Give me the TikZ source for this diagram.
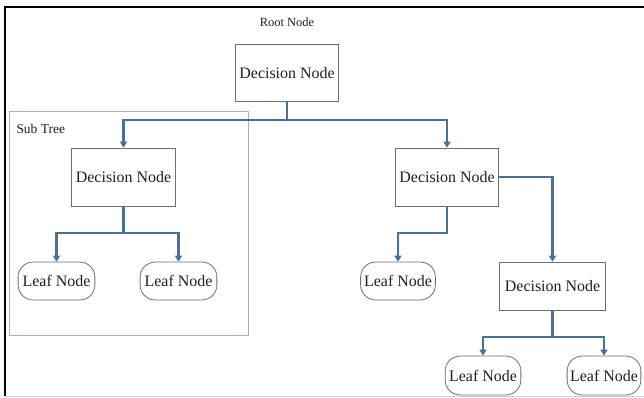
\documentclass[tikz,border=0pt]{standalone}
\usepackage{fontspec}
\setmainfont{Liberation Serif}
\usetikzlibrary{arrows.meta}

\definecolor{linkblue}{RGB}{72,112,152}
\definecolor{treeframe}{RGB}{160,178,196}
\definecolor{boxline}{RGB}{110,110,110}
\definecolor{txt}{RGB}{30,30,30}

\tikzset{
  decision/.style={draw=boxline,line width=0.8pt,text=txt,font=\fontsize{16}{18}\selectfont,
    minimum width=104,minimum height=57,inner sep=0pt},
  leaf/.style={draw=boxline,line width=0.8pt,text=txt,font=\fontsize{16}{18}\selectfont,
    rounded corners=15pt,minimum width=77,minimum height=38,inner sep=0pt},
  link/.style={draw=linkblue,line width=2.2pt,-{Triangle[width=7pt,length=6pt]}},
  trunk/.style={draw=linkblue,line width=2.2pt},
}

\begin{document}
\begin{tikzpicture}[x=1bp,y=-1bp]
  \useasboundingbox (0,0) rectangle (644,397);
  % outer frame
  \draw[line width=1.8pt] (5,396) -- (5,7) -- (644,7);
  \draw[gray!40,line width=0.6pt] (5,396) -- (644,396);

  % sub tree frame
  \draw[treeframe,line width=1pt] (9,111) rectangle (248,335);
  \node[anchor=west,text=txt,font=\fontsize{13.5}{15}\selectfont] (subtree) at (13,129) {Sub Tree};

  \node[text=txt,font=\fontsize{12.5}{14}\selectfont] (rootlbl) at (287,22) {Root Node};
  \node[decision] (root) at (287,73) {Decision Node};

  \node[decision,minimum height=58] (dl) at (123.5,177) {Decision Node};
  \node[decision,minimum height=58] (dr) at (447,177) {Decision Node};
  \node[decision,minimum width=107,minimum height=48] (dd) at (552.5,286) {Decision Node};

  \node[leaf] (l1) at (56.5,281) {Leaf Node};
  \node[leaf] (l2) at (178.5,281) {Leaf Node};
  \node[leaf,minimum width=75] (l3) at (398,281) {Leaf Node};
  \node[leaf,minimum width=76,minimum height=39] (l4) at (483,375.5) {Leaf Node};
  \node[leaf,minimum width=74,minimum height=39] (l5) at (604,375.5) {Leaf Node};

  % branching points
  \coordinate (j0) at (287,120);
  \coordinate (j1) at (123.5,233);
  \coordinate (j2) at (447,233);
  \coordinate (j3) at (552.5,337);

  \draw[trunk] (root) -- (j0);
  \draw[link] (j0) -| (dl);
  \draw[link] (j0) -| (dr);

  \draw[trunk] (dl) -- (j1);
  \draw[link] (j1) -| (l1);
  \draw[link] (j1) -| (l2);

  \draw[link] (dr) -- (j2) -| (l3);
  \draw[link] (dr.east) -| (dd);

  \draw[trunk] (dd) -- (j3);
  \draw[link] (j3) -| (l4);
  \draw[link] (j3) -| (l5);
\end{tikzpicture}
\end{document}
